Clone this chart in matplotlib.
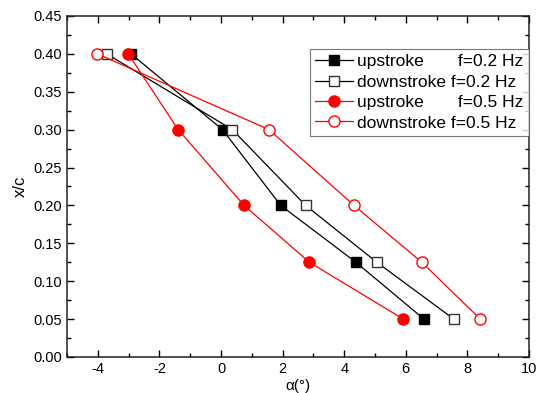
import matplotlib
matplotlib.use("Agg")
import matplotlib.pyplot as plt
from matplotlib.ticker import MultipleLocator

plt.rcParams['font.family'] = ['Liberation Sans', 'DejaVu Sans']
plt.rcParams['axes.unicode_minus'] = False

xc = [0.40, 0.30, 0.20, 0.125, 0.05]
up_02 = [-2.92, 0.05, 1.94, 4.38, 6.59]
down_02 = [-3.71, 0.37, 2.75, 5.06, 7.56]
up_05 = [-3.01, -1.39, 0.75, 2.87, 5.92]
down_05 = [-4.01, 1.56, 4.32, 6.52, 8.42]

fig = plt.figure(figsize=(5.41, 3.93), dpi=100)
ax = fig.add_axes([67 / 541, 1 - 357 / 393, 462 / 541, 341 / 393])

ax.plot(up_02, xc, '-s', color='black', lw=0.9, ms=7, mfc='black', mec='black',
        label='upstroke       f=0.2 Hz')
ax.plot(down_02, xc, '-s', color='black', lw=0.9, ms=7, mfc='white', mec='#333333',
        label='downstroke f=0.2 Hz')
ax.plot(up_05, xc, '-o', color='red', lw=0.9, ms=8, mfc='red', mec='red',
        label='upstroke       f=0.5 Hz')
ax.plot(down_05, xc, '-o', color='red', lw=0.9, ms=8, mfc='white', mec='red',
        label='downstroke f=0.5 Hz')

ax.set_xlim(-5, 10)
ax.set_ylim(0, 0.45)
ax.xaxis.set_major_locator(MultipleLocator(2))
ax.xaxis.set_minor_locator(MultipleLocator(1))
ax.yaxis.set_major_locator(MultipleLocator(0.05))
ax.yaxis.set_minor_locator(MultipleLocator(0.025))
ax.yaxis.set_major_formatter(plt.FormatStrFormatter('%.2f'))
ax.tick_params(which='both', direction='in', top=True, right=True, labelsize=10.5)
ax.tick_params(which='major', length=5, width=1)
ax.tick_params(which='minor', length=3, width=1)
for s in ax.spines.values():
    s.set_linewidth(1.1)
    s.set_color('#222222')

ax.set_xlabel('α(°)', fontsize=11, labelpad=2)
ax.set_ylabel('x/c', fontsize=12, labelpad=4)

leg = ax.legend(loc='upper right', bbox_to_anchor=(1.0, 0.903), fontsize=12.5,
                frameon=True, fancybox=False, handlelength=2.2,
                handletextpad=0.25, borderpad=0.3, labelspacing=0.3,
                borderaxespad=0)
leg.get_frame().set_edgecolor('#555555')
leg.get_frame().set_linewidth(0.8)

fig.savefig('out.png', dpi=100)
